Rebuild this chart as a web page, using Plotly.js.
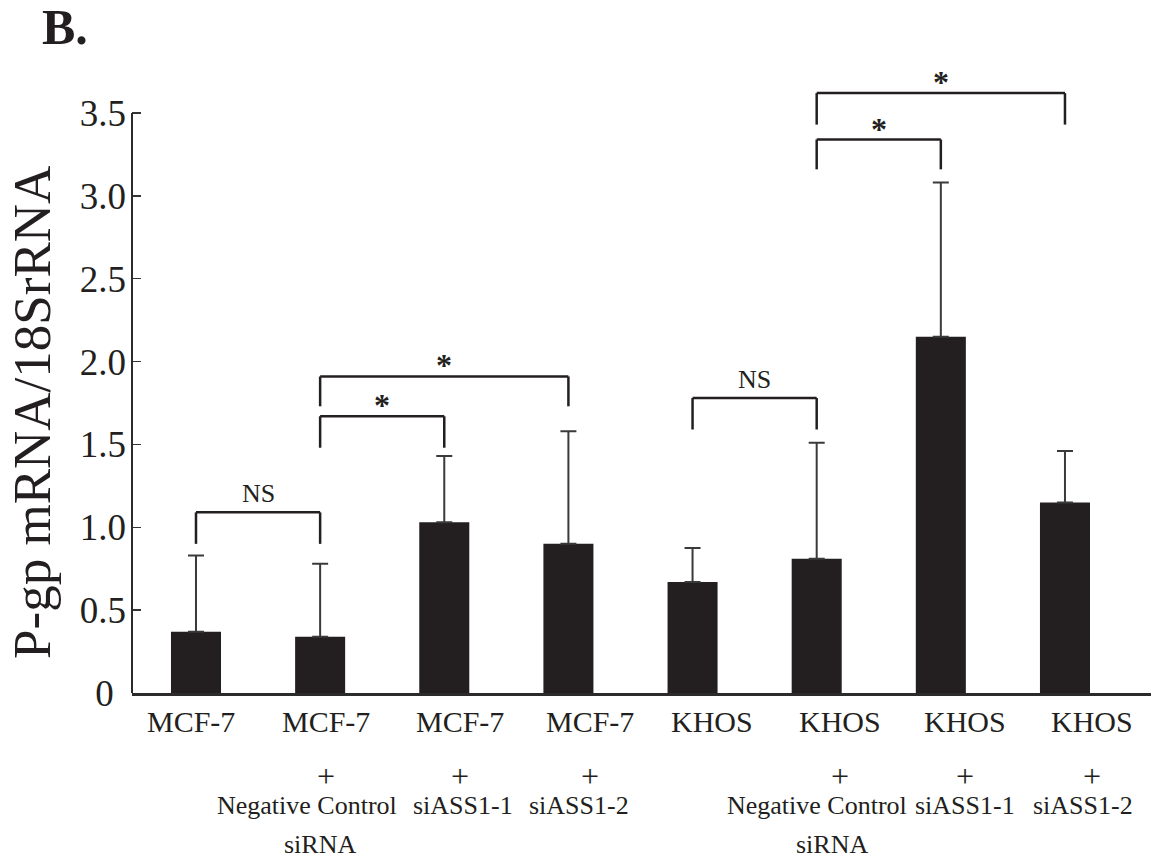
<!DOCTYPE html>
<html>
<head>
<meta charset="utf-8">
<script src="https://cdn.plot.ly/plotly-3.0.1.min.js"></script>
<style>
html,body{margin:0;padding:0;background:#ffffff;}
#chart{width:1151px;height:861px;}
</style>
</head>
<body>
<div id="chart"></div>
<script>
// ---- data ----
const categories = ['MCF-7', 'MCF-7 + Negative Control siRNA', 'MCF-7 + siASS1-1', 'MCF-7 + siASS1-2',
                    'KHOS', 'KHOS + Negative Control siRNA', 'KHOS + siASS1-1', 'KHOS + siASS1-2'];
const cellLines = ['MCF-7', 'MCF-7', 'MCF-7', 'MCF-7', 'KHOS', 'KHOS', 'KHOS', 'KHOS'];
const plusSigns = ['', '+', '+', '+', '', '+', '+', '+'];
const treatments = ['', 'Negative Control', 'siASS1-1', 'siASS1-2', '', 'Negative Control', 'siASS1-1', 'siASS1-2'];
const treatmentSuffix = ['', 'siRNA', '', '', '', 'siRNA', '', ''];
const means = [0.37, 0.34, 1.03, 0.90, 0.67, 0.81, 2.15, 1.15];
const sdUpper = [0.46, 0.44, 0.40, 0.68, 0.205, 0.70, 0.93, 0.31];
const yTickVals = [0, 0.5, 1, 1.5, 2, 2.5, 3, 3.5];
const yTickText = ['0', '0.5', '1.0', '1.5', '2.0', '2.5', '3.0', '3.5'];
const bracketFrom = [0, 1, 1, 4, 5, 5];
const bracketTo = [1, 2, 3, 5, 6, 7];
const bracketTop = [1.09, 1.67, 1.91, 1.78, 3.34, 3.62];
const bracketLegEnd = [0.90, 1.48, 1.73, 1.59, 3.16, 3.43];
const bracketLabel = ['NS', '*', '*', 'NS', '*', '*'];

// ---- styles / layout helpers (pixel nudges of the category labels) ----
const FONT = 'Liberation Serif, Times New Roman, serif';
const INK = '#231f20';
const LINE = '#2b2b2b';
const labelNudge = [-5, 6, 16, 22, 19, 23, 24, 27];
const treatmentNudge = [0, -19, 3, -11, 0, -23, 0, -9];
const suffixNudge = [0, -6, 0, 0, 0, -8, 0, 0];

const trace = {
  type: 'bar',
  x: categories,
  y: means,
  marker: {color: INK, line: {width: 0}},
  error_y: {
    type: 'data', symmetric: false,
    array: sdUpper,
    arrayminus: sdUpper.map(() => 0),
    color: '#3a3a3a', thickness: 2, width: 8
  },
  hoverinfo: 'none'
};

const shapes = [
  // y axis line (0 to 3.5)
  {type: 'line', xref: 'paper', yref: 'y', x0: 0, x1: 0, y0: 0, y1: yTickVals[yTickVals.length - 1],
   line: {color: LINE, width: 2}}
];
const annotations = [];

bracketFrom.forEach((f, i) => {
  const a = categories[f], b = categories[bracketTo[i]];
  const st = {color: INK, width: 2.5};
  shapes.push({type: 'line', xref: 'x', yref: 'y', x0: a, x1: a, y0: bracketLegEnd[i], y1: bracketTop[i], line: st});
  shapes.push({type: 'line', xref: 'x', yref: 'y', x0: a, x1: b, y0: bracketTop[i], y1: bracketTop[i], line: st});
  shapes.push({type: 'line', xref: 'x', yref: 'y', x0: b, x1: b, y0: bracketLegEnd[i], y1: bracketTop[i], line: st});
  const isStar = bracketLabel[i] === '*';
  annotations.push({
    xref: 'x', yref: 'y', x: (f + bracketTo[i]) / 2, y: bracketTop[i],
    xanchor: 'center', yanchor: 'bottom', yshift: isStar ? -9 : 2,
    text: isStar ? '<b>*</b>' : bracketLabel[i], showarrow: false,
    font: {family: FONT, size: isStar ? 32 : 26, color: INK}
  });
});

// x category labels (multi-row)
categories.forEach((c, i) => {
  const rows = [
    [cellLines[i], 'middle', -28, 30, 0],
    [plusSigns[i], 'middle', -83, 32, 0],
    [treatments[i], 'middle', -112, 26, treatmentNudge[i]],
    [treatmentSuffix[i], 'bottom', -168, 26, suffixNudge[i]]
  ];
  rows.forEach(([t, anchor, dy, sz, nx]) => {
    if (!t) return;
    annotations.push({
      xref: 'x', yref: 'paper', x: i, y: 0, xanchor: 'center', yanchor: anchor,
      yshift: dy, xshift: labelNudge[i] + nx,
      text: t, showarrow: false, font: {family: FONT, size: sz, color: INK}
    });
  });
});

// y axis title
annotations.push({
  xref: 'paper', yref: 'y', x: 0, y: 1.69, xshift: -100, xanchor: 'center', yanchor: 'middle',
  textangle: -90, text: 'P-gp mRNA/18SrRNA', showarrow: false,
  font: {family: FONT, size: 53, color: INK}
});
// panel label
annotations.push({
  xref: 'paper', yref: 'paper', x: 0, y: 1, xanchor: 'left', yanchor: 'top', xshift: -92, yshift: 58,
  text: '<b>B.</b>', showarrow: false, font: {family: FONT, size: 50, color: INK}
});

// tick labels are centred in the reference: pad short ones so they line up
const yTickDisplay = yTickText.map(t => t.length < 3 ? t + '\u2008\u200A' : t);

const layout = {
  width: 1151, height: 861,
  margin: {l: 132, r: 0, t: 55, b: 168, pad: 0},
  paper_bgcolor: '#ffffff', plot_bgcolor: '#ffffff',
  showlegend: false,
  bargap: 0.597,
  font: {family: FONT, color: INK},
  xaxis: {
    type: 'category', range: [-0.5155, 7.693],
    showticklabels: false, ticks: '', showline: true, linecolor: LINE, linewidth: 2.5,
    showgrid: false, zeroline: false, fixedrange: true
  },
  yaxis: {
    range: [0, 3.85], tickvals: yTickVals, ticktext: yTickDisplay,
    ticks: 'inside', ticklen: 9, tickwidth: 1.5, tickcolor: '#333333',
    ticklabelstandoff: 5,
    showline: false, showgrid: false, zeroline: false, fixedrange: true,
    tickfont: {family: FONT, size: 37, color: INK}
  },
  shapes: shapes,
  annotations: annotations
};

Plotly.newPlot('chart', [trace], layout, {displayModeBar: false, staticPlot: true});
</script>
</body>
</html>
